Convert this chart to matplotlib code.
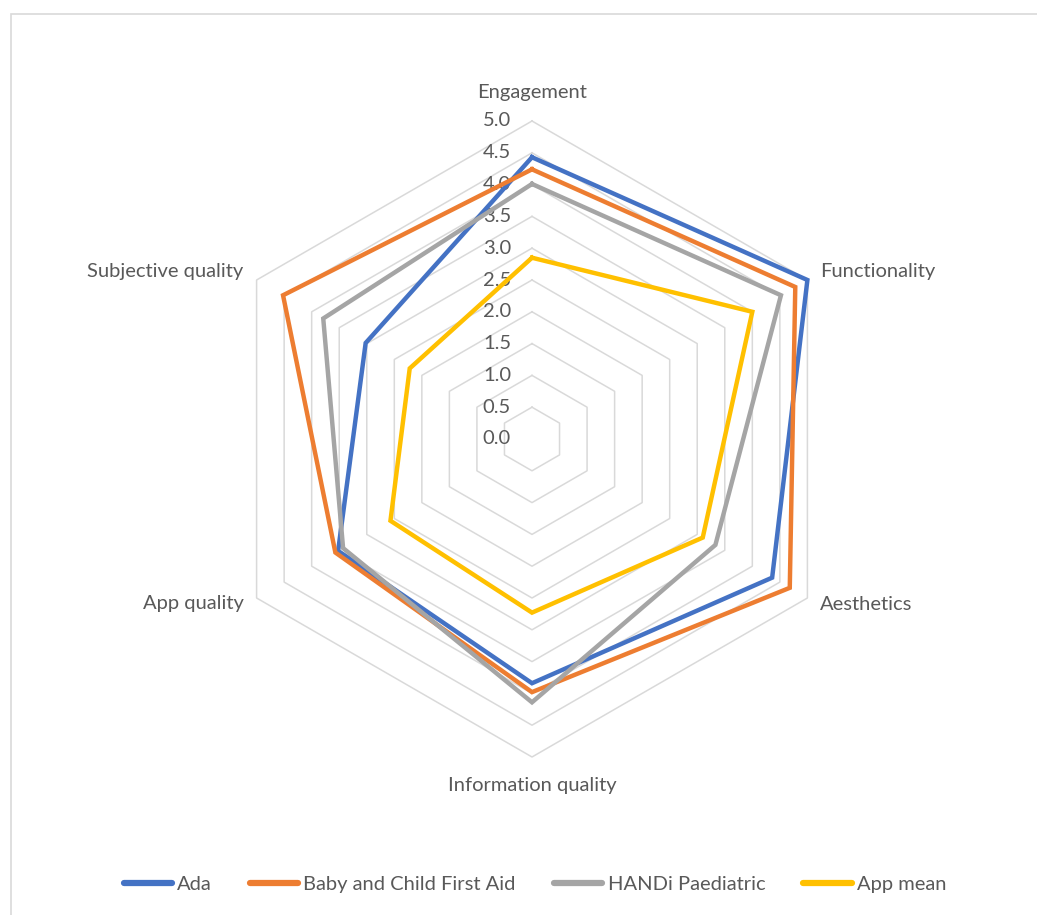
import numpy as np
import matplotlib.pyplot as plt
from matplotlib.lines import Line2D
from matplotlib.patches import Rectangle

plt.rcParams['font.family'] = ['Lato', 'DejaVu Sans']

categories = ["Engagement", "Functionality", "Aesthetics",
              "Information quality", "App quality", "Subjective quality"]
series_names = ["Ada", "Baby and Child First Aid", "HANDi Paediatric", "App mean"]
ada = [4.43, 5.0, 4.36, 3.84, 3.52, 3.02]
baby = [4.24, 4.78, 4.68, 3.98, 3.57, 4.52]
handi = [4.01, 4.52, 3.33, 4.14, 3.43, 3.79]
app_mean = [2.85, 4.0, 3.1, 2.73, 2.57, 2.22]
ticks = [0.0, 0.5, 1.0, 1.5, 2.0, 2.5, 3.0, 3.5, 4.0, 4.5, 5.0]

colors = ["#4472C4", "#ED7D31", "#A5A5A5", "#FFC000"]
text_col = "#595959"
grid_col = "#D9D9D9"
fs = 14.5

# spokes start at the top and go clockwise
angles = np.deg2rad(90 - 60 * np.arange(len(categories)))


def to_xy(vals):
    vals = np.asarray(vals, dtype=float)
    x = vals * np.cos(angles)
    y = vals * np.sin(angles)
    return np.append(x, x[0]), np.append(y, y[0])


W, H = 1037, 915
fig = plt.figure(figsize=(W / 100, H / 100), dpi=100)
ax = fig.add_axes([0, 0, 1, 1])
ax.set_axis_off()

# pixel scale: 5.0 on the radial axis spans 318 px, centre at (532, 439)
px = 318 / 5.0
cx, cy = 532, 439
ax.set_xlim(-cx / px, (W - cx) / px)
ax.set_ylim(-(H - cy) / px, cy / px)

# outer frame of the chart area
fig.patches.append(Rectangle((11 / W, -0.1), 1.1, (H - 14) / H + 0.1,
                             transform=fig.transFigure, fill=False,
                             edgecolor=grid_col, lw=1.2))

# hexagonal grid rings
for t in ticks[1:]:
    gx, gy = to_xy([t] * len(categories))
    ax.plot(gx, gy, color=grid_col, lw=1.1, zorder=1)

# radial value labels
for t in ticks:
    ax.text(-21 / px, t, f"{t:.1f}", ha="right", va="center",
            fontsize=fs, color=text_col, zorder=2)

for vals, col in zip([ada, baby, handi, app_mean], colors):
    sx, sy = to_xy(vals)
    ax.plot(sx, sy, color=col, lw=3.2, solid_joinstyle="miter", zorder=3)

# category labels
lab_r = 5.0
ax.text(0, lab_r + 28 / px, categories[0], ha="center", va="center", fontsize=fs, color=text_col)
ax.text(lab_r * np.cos(angles[1]) + 13 / px, lab_r * np.sin(angles[1]) + 8 / px, categories[1],
        ha="left", va="center", fontsize=fs, color=text_col)
ax.text(lab_r * np.cos(angles[2]) + 13 / px, lab_r * np.sin(angles[2]) - 6 / px, categories[2],
        ha="left", va="center", fontsize=fs, color=text_col)
ax.text(0, -lab_r - 28 / px, categories[3], ha="center", va="center", fontsize=fs, color=text_col)
ax.text(lab_r * np.cos(angles[4]) - 13 / px, lab_r * np.sin(angles[4]) - 6 / px, categories[4],
        ha="right", va="center", fontsize=fs, color=text_col)
ax.text(lab_r * np.cos(angles[5]) - 13 / px, lab_r * np.sin(angles[5]) + 8 / px, categories[5],
        ha="right", va="center", fontsize=fs, color=text_col)

handles = [Line2D([], [], color=c, lw=4.5, solid_capstyle="round") for c in colors]
leg = fig.legend(handles, series_names, loc="center", bbox_to_anchor=(535 / W, 1 - 884 / H),
                 ncol=4, frameon=False, fontsize=fs, handlelength=2.4,
                 handletextpad=0.25, columnspacing=1.9)
for txt in leg.get_texts():
    txt.set_color(text_col)

fig.savefig("out.png", dpi=100)
